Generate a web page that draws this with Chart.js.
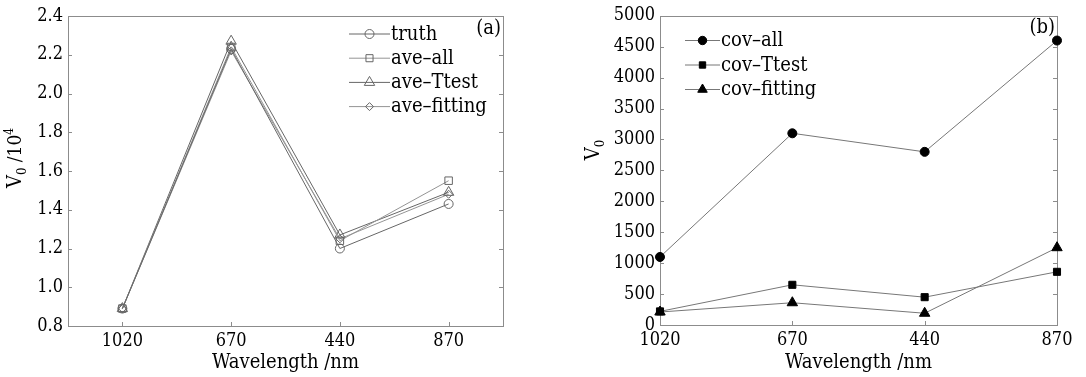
<!DOCTYPE html>
<html>
<head>
<meta charset="utf-8">
<script src="https://cdn.jsdelivr.net/npm/chart.js@4.4.1/dist/chart.umd.min.js"></script>
<style>
  html, body { margin: 0; padding: 0; background: #fff; }
  #wrap { position: relative; width: 1086px; height: 377px; overflow: hidden; background: #fff; }
  .panel { position: absolute; top: 0; width: 543px; height: 377px; }
</style>
</head>
<body>
<div id="wrap">
  <div class="panel" style="left:0"><canvas id="chartA" width="543" height="377"></canvas></div>
  <div class="panel" style="left:543px"><canvas id="chartB" width="543" height="377"></canvas></div>
</div>
<script>
// categories (wavelength, nm)
const wavelengths = ['1020', '670', '440', '870'];

// panel (a): V0 / 10^4
const truth      = [0.89, 2.23, 1.20, 1.43];
const aveAll     = [0.89, 2.24, 1.24, 1.55];
const aveTtest   = [0.89, 2.27, 1.27, 1.49];
const aveFitting = [0.89, 2.22, 1.25, 1.48];

// panel (b): V0
const covAll     = [1100, 3100, 2800, 4600];
const covTtest   = [220, 650, 450, 860];
const covFitting = [210, 360, 190, 1250];

// tick labels
const yTicksA = [0.8, 1.0, 1.2, 1.4, 1.6, 1.8, 2.0, 2.2, 2.4];
const yTicksB = [0, 500, 1000, 1500, 2000, 2500, 3000, 3500, 4000, 4500, 5000];

const SERIF = '"DejaVu Serif Condensed", "DejaVu Serif", serif';
const TEXT = '#000';
const FRAME = '#8c8c8c';

// frame box + inward tick marks
const framePlugin = {
  id: 'frame',
  beforeDatasetsDraw(chart) {
    const { ctx, chartArea: a, scales } = chart;
    ctx.save();
    ctx.strokeStyle = FRAME;
    ctx.lineWidth = 1;
    ctx.strokeRect(Math.round(a.left) + 0.5, Math.round(a.top) + 0.5,
                   Math.round(a.right - a.left), Math.round(a.bottom - a.top));
    ctx.beginPath();
    scales.y.ticks.forEach(t => {
      const y = Math.round(scales.y.getPixelForValue(t.value)) + 0.5;
      ctx.moveTo(a.left, y); ctx.lineTo(a.left + 4, y);
      ctx.moveTo(a.right, y); ctx.lineTo(a.right - 4, y);
    });
    wavelengths.forEach((w, i) => {
      const x = Math.round(scales.x.getPixelForValue(i)) + 0.5;
      ctx.moveTo(x, a.bottom); ctx.lineTo(x, a.bottom - 4);
    });
    ctx.stroke();
    ctx.restore();
  }
};

// legend, panel tag and axis titles
const decorPlugin = {
  id: 'decor',
  afterDraw(chart, args, o) {
    const { ctx, chartArea: a } = chart;
    ctx.save();
    // legend
    chart.data.datasets.forEach((ds, i) => {
      const y = o.legY + i * o.legDy;
      ctx.strokeStyle = ds.borderColor;
      ctx.lineWidth = 1;
      ctx.beginPath();
      ctx.moveTo(o.legX0, y + 0.5); ctx.lineTo(o.legX1, y + 0.5);
      ctx.stroke();
      ctx.fillStyle = ds.pointBackgroundColor;
      ctx.strokeStyle = ds.pointBorderColor;
      Chart.helpers.drawPoint(ctx, {
        pointStyle: ds.pointStyle, rotation: 0,
        radius: ds.legendRadius, borderWidth: 1
      }, (o.legX0 + o.legX1) / 2, y + 0.5);
      ctx.fillStyle = TEXT;
      ctx.font = o.legFont + 'px ' + SERIF;
      ctx.textBaseline = 'middle';
      ctx.textAlign = 'left';
      ctx.fillText(ds.label, o.legX1 + 1, y + 1);
    });
    // panel tag
    ctx.fillStyle = TEXT;
    ctx.font = '20px ' + SERIF;
    ctx.textAlign = 'right';
    ctx.textBaseline = 'middle';
    ctx.fillText(o.tag, a.right - 2, o.tagY);
    // x title
    ctx.font = '20px ' + SERIF;
    ctx.textAlign = 'center';
    ctx.fillText('Wavelength /nm', (a.left + a.right) / 2, 363);
    // y title (rotated)
    ctx.translate(o.yTitleX, o.yTitleY);
    ctx.rotate(-Math.PI / 2);
    const parts = [
      { t: 'V', f: '20px ' + SERIF, dy: 0 },
      { t: '0', f: '13px ' + SERIF, dy: 5 }
    ];
    if (o.exp) {
      parts.push({ t: ' /10', f: '19px ' + SERIF, dy: 0 });
      parts.push({ t: '4', f: '12px ' + SERIF, dy: -8 });
    }
    let total = 0;
    parts.forEach(p => { ctx.font = p.f; p.w = ctx.measureText(p.t).width; total += p.w; });
    let x = -total / 2;
    ctx.textAlign = 'left';
    ctx.textBaseline = 'alphabetic';
    parts.forEach(p => { ctx.font = p.f; ctx.fillText(p.t, x, 6 + p.dy); x += p.w; });
    ctx.restore();
  }
};

function makeScales(cfg) {
  return {
    x: {
      type: 'category',
      offset: cfg.offset,
      grid: { display: false, drawTicks: false },
      border: { display: false },
      ticks: { font: { family: SERIF, size: 18 }, color: TEXT, padding: 5, maxRotation: 0, autoSkip: false },
      afterFit: s => { s.height = cfg.xHeight; }
    },
    y: {
      type: 'linear',
      min: cfg.min, max: cfg.max,
      grid: { display: false, drawTicks: false },
      border: { display: false },
      ticks: { font: { family: SERIF, size: 18 }, color: TEXT, padding: 5, callback: cfg.fmt },
      afterBuildTicks: s => { s.ticks = cfg.ticks.map(v => ({ value: v })); },
      afterFit: s => { s.width = cfg.yWidth; }
    }
  };
}

function lineSet(label, data, style, radius, legendRadius, lineColor, markColor, fill) {
  return {
    label, data,
    borderColor: lineColor, borderWidth: 1, tension: 0,
    pointStyle: style, pointRadius: radius, pointHoverRadius: radius,
    pointBorderColor: markColor, pointBackgroundColor: fill, pointBorderWidth: 1,
    legendRadius, clip: false
  };
}

const GREY = '#666';
const LIGHT = '#949494';
const NONE = 'rgba(0,0,0,0)';

new Chart(document.getElementById('chartA'), {
  type: 'line',
  data: {
    labels: wavelengths,
    datasets: [
      lineSet('truth', truth, 'circle', 4.5, 4.5, GREY, GREY, NONE),
      lineSet('ave–all', aveAll, 'rect', 5.3, 5, LIGHT, GREY, NONE),
      lineSet('ave–Ttest', aveTtest, 'triangle', 6, 6, GREY, GREY, NONE),
      lineSet('ave–fitting', aveFitting, 'rectRot', 4, 4, LIGHT, GREY, NONE)
    ]
  },
  options: {
    responsive: false, animation: false, events: [],
    layout: { padding: { left: 0, top: 16, right: 40, bottom: 0 } },
    scales: makeScales({ offset: true, min: 0.8, max: 2.4, ticks: yTicksA, yWidth: 68, xHeight: 51,
                         fmt: v => Number(v).toFixed(1) }),
    plugins: {
      legend: { display: false }, tooltip: { enabled: false },
      decor: { legX0: 349, legX1: 390, legY: 33.5, legDy: 24.2, legFont: 20,
               tag: '(a)', tagY: 29, yTitleX: 15, yTitleY: 158, exp: true }
    }
  },
  plugins: [framePlugin, decorPlugin]
});

new Chart(document.getElementById('chartB'), {
  type: 'line',
  data: {
    labels: wavelengths,
    datasets: [
      lineSet('cov–all', covAll, 'circle', 4.5, 4.2, '#777', '#000', '#000'),
      lineSet('cov–Ttest', covTtest, 'rect', 5, 4.5, '#777', '#000', '#000'),
      lineSet('cov–fitting', covFitting, 'triangle', 6, 5.5, '#777', '#000', '#000')
    ]
  },
  options: {
    responsive: false, animation: false, events: [],
    layout: { padding: { left: 0, top: 15, right: 29, bottom: 0 } },
    scales: makeScales({ offset: false, min: 0, max: 5000, ticks: yTicksB, yWidth: 117, xHeight: 52,
                         fmt: v => String(v) }),
    plugins: {
      legend: { display: false }, tooltip: { enabled: false },
      decor: { legX0: 142, legX1: 177, legY: 40, legDy: 24.5, legFont: 20,
               tag: '(b)', tagY: 28, yTitleX: 50, yTitleY: 150, exp: false }
    }
  },
  plugins: [framePlugin, decorPlugin]
});
</script>
</body>
</html>
